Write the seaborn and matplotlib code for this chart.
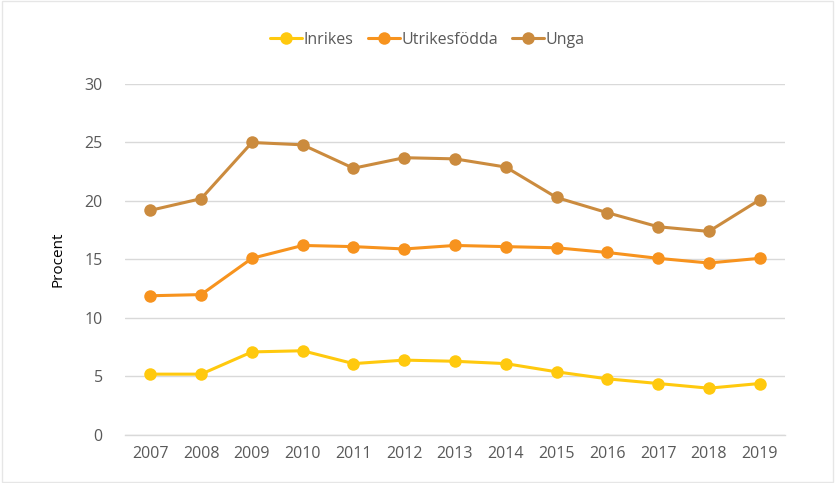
import pandas as pd
import matplotlib.pyplot as plt
import seaborn as sns

years = [2007, 2008, 2009, 2010, 2011, 2012, 2013, 2014, 2015, 2016, 2017, 2018, 2019]
inrikes = [5.2, 5.2, 7.1, 7.2, 6.1, 6.4, 6.3, 6.1, 5.4, 4.8, 4.4, 4.0, 4.4]
utrikesfodda = [11.9, 12.0, 15.1, 16.2, 16.1, 15.9, 16.2, 16.1, 16.0, 15.6, 15.1, 14.7, 15.1]
unga = [19.2, 20.2, 25.0, 24.8, 22.8, 23.7, 23.6, 22.9, 20.3, 19.0, 17.8, 17.4, 20.1]

series_names = ["Inrikes", "Utrikesfödda", "Unga"]
colors = ["#FFC90E", "#F7931E", "#CB8B3E"]

sns.set_style("white")
plt.rcParams['font.family'] = ['Open Sans', 'DejaVu Sans']

# long format table for seaborn
df = pd.DataFrame({
    "pos": list(range(len(years))) * 3,
    "value": inrikes + utrikesfodda + unga,
    "serie": [s for s in series_names for _ in years],
})

fig = plt.figure(figsize=(8.35, 4.83), dpi=100)
ax = fig.add_axes([0.1497, 0.0994, 0.7904, 0.7267])

sns.lineplot(data=df, x="pos", y="value", hue="serie", hue_order=series_names,
             palette=colors, marker="o", markersize=9, markeredgewidth=0,
             linewidth=2.2, ax=ax, legend=False)

ax.set_xlim(-0.5, len(years) - 0.5)
ax.set_ylim(0, 30)
ax.set_yticks([0, 5, 10, 15, 20, 25, 30])
ax.set_xticks(range(len(years)))
ax.set_xticklabels([str(y) for y in years])
ax.set_xticks([i - 0.5 for i in range(len(years) + 1)], minor=True)

# gridlines
ax.yaxis.grid(True, color="#D9D9D9", linewidth=1)
ax.set_axisbelow(True)

for side in ["top", "right", "left"]:
    ax.spines[side].set_visible(False)
ax.spines["bottom"].set_color("#D9D9D9")
ax.spines["bottom"].set_linewidth(1)

ax.tick_params(axis="x", which="major", length=0, pad=8, labelsize=11.5, labelcolor="#595959")
ax.tick_params(axis="x", which="minor", length=6, color="#D9D9D9", width=1)
ax.tick_params(axis="y", length=0, pad=16, labelsize=11.5, labelcolor="#595959")

ax.set_xlabel("")
ax.set_ylabel("Procent", fontsize=11, color="#000000", labelpad=14)

# legend handles built from the plotted lines
handles = ax.get_lines()[:3]
fig.legend(handles, series_names, loc="center", bbox_to_anchor=(0.512, 0.917), ncol=3,
           frameon=False, fontsize=11.5, labelcolor="#595959", handlelength=2.0,
           columnspacing=0.9, handletextpad=0.1)

# thin frame around the whole figure
fig.patches.append(plt.Rectangle((0.002, 0.002), 0.996, 0.996, transform=fig.transFigure,
                                 fill=False, edgecolor="#E6E6E6", linewidth=1))

fig.savefig("out.png", dpi=100)
